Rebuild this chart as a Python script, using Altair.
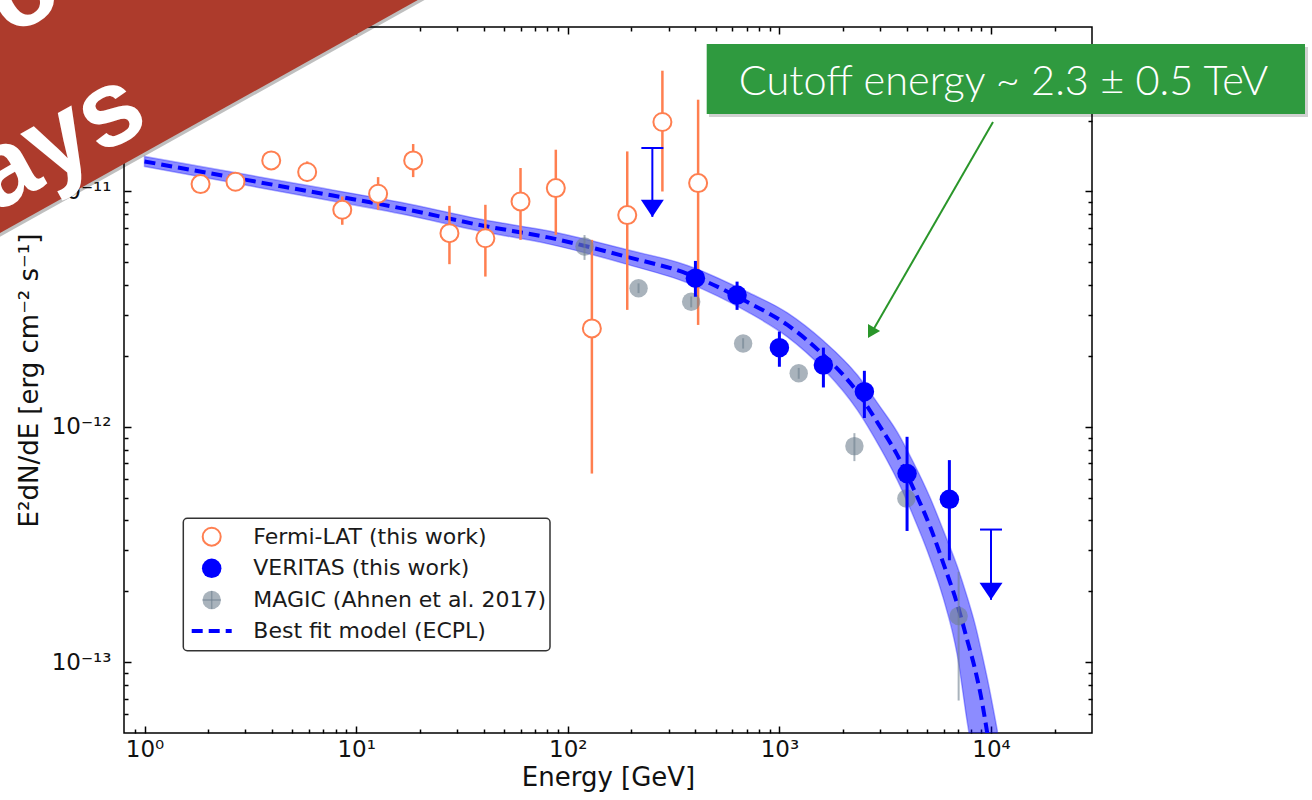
import altair as alt
import pandas as pd

# ---------------- data ----------------
fermi_E = [1.84, 2.69, 3.97, 5.87, 8.60, 12.7, 18.6, 27.6, 40.8, 59.8, 87.8, 130, 191, 280, 413]
fermi_F = [1.075e-11, 1.10e-11, 1.355e-11, 1.21e-11, 8.36e-12, 9.78e-12, 1.355e-11, 6.65e-12,
           6.33e-12, 9.07e-12, 1.034e-11, 2.62e-12, 7.94e-12, 1.974e-11, 1.086e-11]
fermi_lo = [1.04e-11, 1.06e-11, 1.31e-11, 1.103e-11, 7.22e-12, 8.36e-12, 1.151e-11, 4.91e-12,
            4.35e-12, 6.23e-12, 6.54e-12, 6.33e-13, 3.14e-12, 1.0e-11, 2.71e-12]
fermi_hi = [1.11e-11, 1.14e-11, 1.40e-11, 1.342e-11, 9.52e-12, 1.151e-11, 1.591e-11, 8.69e-12,
            8.78e-12, 1.258e-11, 1.505e-11, 6.23e-12, 1.48e-11, 3.26e-11, 2.455e-11]

veritas_E = [401, 631, 1000, 1614, 2521, 4011, 6356]
veritas_F = [4.28e-12, 3.63e-12, 2.17e-12, 1.83e-12, 1.41e-12, 6.33e-13, 4.92e-13]
veritas_lo = [3.57e-12, 3.14e-12, 1.80e-12, 1.47e-12, 1.09e-12, 3.61e-13, 2.71e-13]
veritas_hi = [5.07e-12, 4.14e-12, 2.54e-12, 2.17e-12, 1.73e-12, 9.07e-13, 7.22e-13]

ul_E = [251, 10000]
ul_F = [1.53e-11, 3.66e-13]
ul_tip = [7.8e-12, 1.84e-13]

magic_E = [120, 216, 383, 674, 1234, 2262, 3981, 7030]
magic_F = [5.84e-12, 3.88e-12, 3.40e-12, 2.26e-12, 1.69e-12, 8.28e-13, 4.96e-13, 1.57e-13]
magic_lo = [5.12e-12, 3.70e-12, 3.22e-12, 2.15e-12, 1.60e-12, 7.15e-13, 4.60e-13, 6.87e-14]
magic_hi = [6.53e-12, 4.07e-12, 3.58e-12, 2.38e-12, 1.78e-12, 9.40e-13, 5.35e-13, 2.42e-13]

model_E = [1.0, 5.46, 16.2, 40.0, 82.9, 191, 368, 706, 1091, 1614, 2336, 3000, 3609, 4295,
           5168, 5953, 6931, 7727, 8431, 9096, 9605, 10710]
model_F = [1.342e-11, 1.017e-11, 8.50e-12, 7.15e-12, 6.35e-12, 5.27e-12, 4.47e-12, 3.39e-12,
           2.71e-12, 2.02e-12, 1.405e-12, 9.97e-13, 7.58e-13, 5.48e-13, 3.74e-13, 2.63e-13,
           1.76e-13, 1.237e-13, 9.22e-14, 6.67e-14, 4.97e-14, 2.58e-14]
model_hi = [1.409e-11, 1.073e-11, 8.995e-12, 7.58e-12, 6.77e-12, 5.65e-12, 4.85e-12, 3.74e-12,
            3.05e-12, 2.32e-12, 1.66e-12, 1.213e-12, 9.49e-13, 7.07e-13, 4.97e-13, 3.63e-13,
            2.55e-13, 1.885e-13, 1.433e-13, 1.068e-13, 8.52e-14, 5.12e-14]
model_lo = [1.278e-11, 9.63e-12, 8.04e-12, 6.74e-12, 5.96e-12, 4.90e-12, 4.09e-12, 3.08e-12,
            2.41e-12, 1.76e-12, 1.178e-12, 8.11e-13, 5.93e-13, 4.17e-13, 2.74e-13, 1.866e-13,
            1.068e-13, 5.54e-14, 3.46e-14, 2.12e-14, 1.58e-14, 9.7e-15]

xt_major = [1, 10, 100, 1000, 10000]
xt_labels = ["10\u2070", "10\u00b9", "10\u00b2", "10\u00b3", "10\u2074"]
yt_major = [1e-13, 1e-12, 1e-11]
yt_labels = ["10\u207b\u00b9\u00b3", "10\u207b\u00b9\u00b2", "10\u207b\u00b9\u00b9"]
xt_minor = [0.9] + [m * 10 ** k for k in range(0, 4) for m in range(2, 10)] + [20000]
yt_minor = ([m * 1e-14 for m in range(6, 10)] + [m * 1e-13 for m in range(2, 10)]
            + [m * 1e-12 for m in range(2, 10)] + [m * 1e-11 for m in range(2, 5)])

legend_labels = ["Fermi-LAT (this work)", "VERITAS (this work)",
                 "MAGIC (Ahnen et al. 2017)", "Best fit model (ECPL)"]
x_title = "Energy [GeV]"
y_title = "E\u00b2dN/dE [erg cm\u207b\u00b2 s\u207b\u00b9]"
note_text = "Cutoff energy ~ 2.3 \u00b1 0.5 TeV"
banner_lines = ["Astro", "rays"]

# ---------------- tables ----------------
fermi = pd.DataFrame({"E": fermi_E, "F": fermi_F, "lo": fermi_lo, "hi": fermi_hi})
veritas = pd.DataFrame({"E": veritas_E, "F": veritas_F, "lo": veritas_lo, "hi": veritas_hi})
uls = pd.DataFrame({"E": ul_E, "F": ul_F, "tip": ul_tip})
magic = pd.DataFrame({"E": magic_E, "F": magic_F, "lo": magic_lo, "hi": magic_hi})
model = pd.DataFrame({"E": model_E, "F": model_F, "lo": model_lo, "hi": model_hi})

# ---------------- geometry / style ----------------
W, H = 968, 706
PAD = {"left": 124, "top": 27, "right": 1312 - 124 - W, "bottom": 800 - 27 - H}
FONT = "DejaVu Sans"
ORANGE = "#ff7f50"
BLUE = "#0000ff"
GRAY = "#708090"

xs = alt.Scale(type="log", domain=[0.8, 3e4], nice=False)
ys = alt.Scale(type="log", domain=[5e-14, 5e-11], nice=False)


def expr_x():
    parts = []
    for v, lab in zip(xt_major[:-1], xt_labels[:-1]):
        parts.append(f"datum.value < {v * 3.16} ? '{lab}'")
    return " : ".join(parts) + f" : '{xt_labels[-1]}'"


def expr_y():
    parts = []
    for v, lab in zip(yt_major[::-1][:-1], yt_labels[::-1][:-1]):
        parts.append(f"datum.value > {v / 3.16} ? '{lab}'")
    return " : ".join(parts) + f" : '{yt_labels[0]}'"


def tick_axis(orient, values, size):
    return alt.Axis(orient=orient, values=values, labels=False, domain=False, grid=False,
                    ticks=True, tickSize=size, tickWidth=1.5, tickColor="black",
                    offset=-size, title=None)


ax_x_main = alt.Axis(orient="bottom", values=xt_major, labelExpr=expr_x(), ticks=False,
                     tickSize=0, domain=False, grid=False, labelFont=FONT, labelFontSize=23,
                     labelColor="#111111", labelPadding=5, labelFlush=False,
                     labelOverlap=False, title=x_title, titleFont=FONT, titleFontSize=26,
                     titleFontWeight="normal", titleColor="#111111", titlePadding=3)
ax_y_main = alt.Axis(orient="left", values=yt_major, labelExpr=expr_y(), ticks=False,
                     tickSize=0, domain=False, grid=False, labelFont=FONT, labelFontSize=23,
                     labelColor="#111111", labelPadding=13, labelFlush=False,
                     labelOverlap=False, title=y_title, titleFont=FONT, titleFontSize=26,
                     titleFontWeight="normal", titleColor="#111111", titlePadding=9)


def X(axis, field="E"):
    return alt.X(f"{field}:Q", scale=xs, axis=axis)


def Y(field, axis):
    return alt.Y(f"{field}:Q", scale=ys, axis=axis)


band = alt.Chart(model).mark_area(
    fill=BLUE, fillOpacity=0.45, stroke=BLUE, strokeOpacity=0.3, strokeWidth=1.5,
    interpolate="monotone", clip=True
).encode(x=X(ax_x_main), y=Y("lo", ax_y_main), y2="hi:Q")

line = alt.Chart(model).mark_line(
    color=BLUE, strokeWidth=4, strokeDash=[11, 6], interpolate="monotone", clip=True
).encode(x=X(tick_axis("bottom", xt_major, 7)), y=Y("F", tick_axis("left", yt_major, 7)))

fermi_err = alt.Chart(fermi).mark_rule(color=ORANGE, strokeWidth=2.5).encode(
    x=X(tick_axis("bottom", xt_minor, 4)), y=Y("lo", tick_axis("left", yt_minor, 4)), y2="hi:Q")

fermi_pts = alt.Chart(fermi).mark_point(
    shape="circle", filled=True, fill="white", stroke=ORANGE, strokeWidth=2, size=324, opacity=1
).encode(x=X(tick_axis("top", xt_major, 7)), y=Y("F", tick_axis("right", yt_major, 7)))

magic_err = alt.Chart(magic).mark_rule(color=GRAY, strokeWidth=2, opacity=0.6).encode(
    x=X(tick_axis("top", xt_minor, 4)), y=Y("lo", tick_axis("right", yt_minor, 4)), y2="hi:Q")

magic_pts = alt.Chart(magic).mark_circle(color=GRAY, opacity=0.6, size=340).encode(
    x=X(None), y=Y("F", None))

ver_err = alt.Chart(veritas).mark_rule(color=BLUE, strokeWidth=3).encode(
    x=X(None), y=Y("lo", None), y2="hi:Q")

ver_pts = alt.Chart(veritas).mark_circle(color=BLUE, opacity=1, size=380).encode(
    x=X(None), y=Y("F", None))

ul_rule = alt.Chart(uls).mark_rule(color=BLUE, strokeWidth=2).encode(
    x=X(None), y=Y("F", None), y2="tip:Q")
ul_cap = alt.Chart(uls).mark_point(
    shape="M-1,0L1,0", filled=False, color=BLUE, strokeWidth=2, size=484, opacity=1
).encode(x=X(None), y=Y("F", None))
ul_head = alt.Chart(uls).mark_point(
    shape="M-1,-1.48L1,-1.48L0,0Z", filled=True, color=BLUE, size=529, opacity=1
).encode(x=X(None), y=Y("tip", None))


# ---------------- decorations (pixel positions inside plot area) ----------------
def vrule(x1, y1, x2, y2, **kw):
    return alt.Chart().mark_rule(**kw).encode(
        x=alt.value(x1), y=alt.value(y1), x2=alt.value(x2), y2=alt.value(y2))


def vtext(x, y, txt, **kw):
    return alt.Chart().mark_text(**kw).encode(x=alt.value(x), y=alt.value(y), text=alt.value(txt))


def vpoint(x, y, **kw):
    return alt.Chart().mark_point(**kw).encode(x=alt.value(x), y=alt.value(y))


def vrect(x1, y1, x2, y2, **kw):
    return alt.Chart().mark_rect(**kw).encode(
        x=alt.value(x1), y=alt.value(y1), x2=alt.value(x2), y2=alt.value(y2))


deco = []
# legend
deco.append(vrect(59.3, 491.3, 426, 623.7, fill="white", stroke="#333333", strokeWidth=1.5,
                  cornerRadius=4))
LX, TX = 87.7, 129.3
rows = [509.7, 541.3, 573.0, 604.0]
deco.append(vpoint(LX, rows[0], shape="circle", filled=True, fill="white", stroke=ORANGE,
                   strokeWidth=2, size=324, opacity=1))
deco.append(vpoint(LX, rows[1], shape="circle", filled=True, fill=BLUE, stroke=BLUE,
                   strokeWidth=0, size=380, opacity=1))
deco.append(vpoint(LX, rows[2], shape="circle", filled=True, fill=GRAY, stroke=GRAY,
                   strokeWidth=0, size=340, opacity=0.6))
deco.append(vrule(LX - 9, rows[2], LX + 9, rows[2], color=GRAY, strokeWidth=1.5, opacity=0.6))
deco.append(vrule(LX, rows[2] - 9, LX, rows[2] + 9, color=GRAY, strokeWidth=1.5, opacity=0.6))
deco.append(vrule(67.7, rows[3], 107.7, rows[3], color=BLUE, strokeWidth=4, strokeDash=[11, 6]))
for r, lab in zip(rows, legend_labels):
    deco.append(vtext(TX, r, lab, font=FONT, fontSize=22, color="#1a1a1a", align="left",
                      baseline="middle"))

# green annotation box with arrow
deco.append(vrect(585, 20, 1184, 90, fill="#000000", opacity=0.18))
deco.append(vrect(582.7, 17, 1181, 87, fill="#2f9a3f"))
deco.append(vtext(879.5, 68, note_text, font="Lato", fontSize=41.5, fontWeight=300,
                  color="white", align="center", baseline="alphabetic"))
deco.append(vrule(869, 95, 748, 305, color="#2a962a", strokeWidth=2))
deco.append(vpoint(747, 305.8, shape="triangle-up", filled=True, color="#2a962a", size=196,
                   angle=210, opacity=1))

# red corner banner (slide overlay)
deco.append(vrule(-483, 181, 300.6, -256, color="#000000", strokeWidth=400, opacity=0.25,
                  strokeCap="butt"))
deco.append(vrule(-483, 177.4, 300.6, -259.8, color="#ad3b2c", strokeWidth=400,
                  strokeCap="butt"))
deco.append(vtext(-57, -22, banner_lines[0], font="Liberation Sans", fontSize=108,
                  fontWeight="bold", color="white", align="right", baseline="alphabetic",
                  angle=331))
deco.append(vtext(28, 99, banner_lines[1], font="Liberation Sans", fontSize=108,
                  fontWeight="bold", color="white", align="right", baseline="alphabetic",
                  angle=331))

chart = alt.layer(
    band, line, fermi_err, fermi_pts, magic_err, magic_pts, ver_err, ver_pts,
    ul_rule, ul_cap, ul_head, *deco
).resolve_axis(x="independent", y="independent").properties(
    width=W, height=H, padding=PAD, autosize=alt.AutoSizeParams(type="none"),
    background="white"
).configure_view(stroke="black", strokeWidth=1.5)

chart.save("out.html", embed_options={"renderer": "svg", "actions": False})
